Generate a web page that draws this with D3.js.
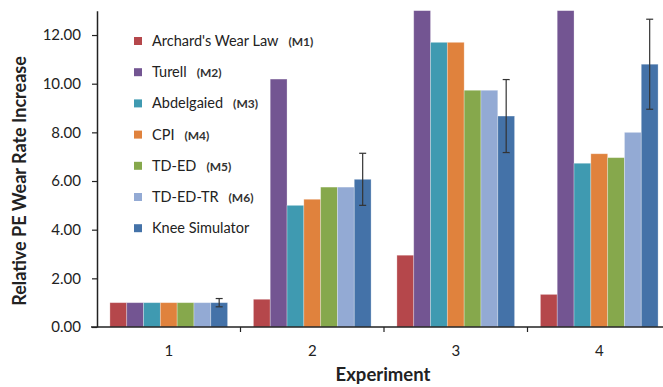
<!DOCTYPE html>
<html><head><meta charset="utf-8">
<script src="https://cdn.jsdelivr.net/npm/d3@7"></script>
<style>body{margin:0;background:#fff}svg{display:block}text{font-family:Lato,"Open Sans",sans-serif;fill:#222}</style>
</head><body><svg id="c" width="663" height="387"></svg>
<script>
const experiments = ["1","2","3","4"];
const seriesNames = ["Archard's Wear Law","Turell","Abdelgaied","CPI","TD-ED","TD-ED-TR","Knee Simulator"];
const seriesTags = ["(M1)","(M2)","(M3)","(M4)","(M5)","(M6)",""];
const seriesColors = ["#b5474b","#735592","#3f9ab1","#e0823d","#86a84c","#93aad4","#4472a8"];
const m1 = [1.00, 1.14, 2.95, 1.34];
const m2 = [1.00, 10.19, 14.0, 14.0];
const m3 = [1.00, 5.00, 11.70, 6.73];
const m4 = [1.00, 5.25, 11.70, 7.12];
const m5 = [1.00, 5.75, 9.73, 6.96];
const m6 = [1.00, 5.75, 9.73, 8.00];
const knee = [1.00, 6.07, 8.67, 10.80];
const kneeErr = [0.17, 1.07, 1.50, 1.85];
const yTicks = [0,2,4,6,8,10,12];
const values = [m1,m2,m3,m4,m5,m6,knee];

const svg = d3.select("#c");
const x0 = 97, yBase = 327, yMax = 13;
const bandW = 143.5;
const x = d3.scaleBand().domain(experiments).range([x0, x0 + bandW*4]).paddingInner(0.18).paddingOuter(0.09);
const xs = d3.scaleBand().domain(d3.range(7)).range([0, x.bandwidth()]);
const y = d3.scaleLinear().domain([0, yMax]).range([yBase, 10.7]);

svg.append("defs").append("clipPath").attr("id","clip").append("rect")
  .attr("x", x0).attr("y", y(yMax)).attr("width", 663 - x0).attr("height", yBase - y(yMax));

const g = svg.append("g").attr("clip-path","url(#clip)");
values.forEach((vals, si) => {
  g.selectAll(null).data(vals).enter().append("rect")
    .attr("x", (d,i) => x(experiments[i]) + xs(si))
    .attr("y", d => y(Math.min(d, yMax + 1)))
    .attr("width", xs.bandwidth())
    .attr("height", d => yBase - y(Math.min(d, yMax + 1)))
    .attr("fill", seriesColors[si])
    .attr("stroke", "#ffffff").attr("stroke-opacity", 0.35).attr("stroke-width", 0.8);
});

// error bars
const eg = svg.append("g").attr("stroke","#333").attr("stroke-width",1.2);
knee.forEach((v,i) => {
  const cx = x(experiments[i]) + xs(6) + xs.bandwidth()/2;
  const t = y(v + kneeErr[i]), b = y(v - kneeErr[i]);
  eg.append("line").attr("x1",cx).attr("x2",cx).attr("y1",t).attr("y2",b);
  eg.append("line").attr("x1",cx-3.5).attr("x2",cx+3.5).attr("y1",t).attr("y2",t);
  eg.append("line").attr("x1",cx-3.5).attr("x2",cx+3.5).attr("y1",b).attr("y2",b);
});

// y axis
const ya = svg.append("g").attr("transform",`translate(${x0},0)`)
  .call(d3.axisLeft(y).tickValues(yTicks).tickFormat(d3.format(".2f")).tickSize(5).tickSizeOuter(0));
ya.select(".domain").attr("stroke","#222").attr("stroke-width",1.5);
ya.selectAll(".tick line").attr("stroke","#222").attr("stroke-width",1.2);
ya.selectAll(".tick text").attr("font-size",15).attr("fill","#333").attr("x",-16).style("font-family","Lato, sans-serif");

// x axis
const xa = svg.append("g").attr("transform",`translate(0,${yBase})`);
xa.append("line").attr("x1",x0-6).attr("x2",663).attr("y1",0).attr("y2",0).attr("stroke","#222").attr("stroke-width",1.5);
[1,2,3].forEach(k => {
  xa.append("line").attr("x1",x0+bandW*k).attr("x2",x0+bandW*k).attr("y1",0).attr("y2",5).attr("stroke","#222").attr("stroke-width",1.2);
});
experiments.forEach(e => {
  xa.append("text").attr("x", x(e) + x.bandwidth()/2).attr("y", 29).attr("text-anchor","middle")
    .attr("font-size",15).attr("fill","#333").text(e);
});

// titles
svg.append("text").attr("x",383).attr("y",381).attr("text-anchor","middle")
  .attr("font-size",18.5).attr("font-weight","bold").text("Experiment");
svg.append("text").attr("transform","translate(26,181) rotate(-90)").attr("text-anchor","middle")
  .attr("font-size",18).attr("font-weight","bold").text("Relative PE Wear Rate Increase");

// legend
const lg = svg.append("g");
seriesNames.forEach((n,i) => {
  const cy = 41 + i*31.2;
  lg.append("rect").attr("x",134).attr("y",cy-4).attr("width",8).attr("height",8).attr("fill",seriesColors[i]);
  const t = lg.append("text").attr("x",152).attr("y",cy+5).attr("font-size",14.5).attr("fill","#222");
  t.append("tspan").text(n);
  if (seriesTags[i]) t.append("tspan").attr("dx",10).attr("font-size",12).attr("font-weight","bold").attr("fill","#333").text(seriesTags[i]);
});
</script></body></html>
